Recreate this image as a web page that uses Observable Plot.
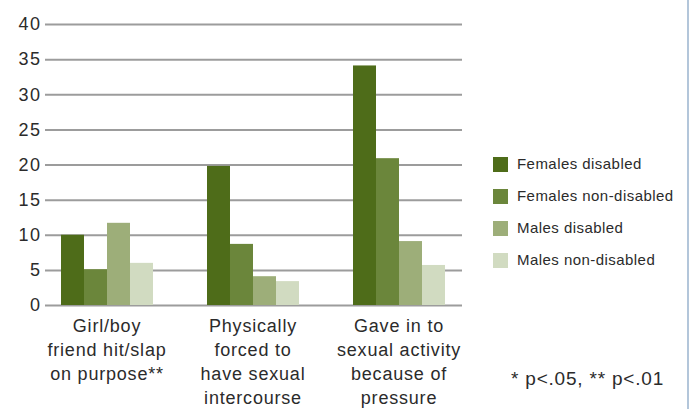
<!DOCTYPE html>
<html>
<head>
<meta charset="utf-8">
<script src="https://cdn.jsdelivr.net/npm/d3@7"></script>
<script src="https://cdn.jsdelivr.net/npm/@observablehq/plot@0.6"></script>
<style>
  html, body { margin: 0; padding: 0; background: #fff; }
  #wrap { position: relative; width: 691px; height: 409px; overflow: hidden; font-family: "Liberation Sans", Arial, sans-serif; color: #2b2b2b; }
  #wrap svg { position: absolute; left: 0; top: 0; }
  .legend { position: absolute; left: 493px; top: 157px; }
  .legend .row { position: relative; height: 32px; font-size: 15px; line-height: 16px; white-space: nowrap; letter-spacing: 0.45px; }
  .legend .sw { position: absolute; left: 0; top: 0; width: 15px; height: 15px; }
  .legend .lab { position: absolute; left: 24px; top: -1px; }
  .note { position: absolute; left: 511px; top: 368px; font-size: 19px; line-height: 22px; letter-spacing: 0.8px; white-space: nowrap; }
  .edge { position: absolute; left: 687px; top: 0; width: 2px; height: 409px; background: #b3c6da; }
  .xlab text { letter-spacing: 0.8px; }
  .ylab text { letter-spacing: 1.5px; }
</style>
</head>
<body>
<div id="wrap"></div>
<script>
const categories = [
  "Girl/boy\nfriend hit/slap\non purpose**",
  "Physically\nforced to\nhave sexual\nintercourse",
  "Gave in to\nsexual activity\nbecause of\npressure"
];
const series = ["Females disabled", "Females non-disabled", "Males disabled", "Males non-disabled"];
const femalesDisabled = [10.0, 19.8, 34.1];
const femalesNonDisabled = [5.1, 8.7, 20.9];
const malesDisabled = [11.7, 4.1, 9.1];
const malesNonDisabled = [6.0, 3.4, 5.7];
const yTicks = [0, 5, 10, 15, 20, 25, 30, 35, 40];
const colors = ["#4e6c19", "#6b863b", "#9dae79", "#d1dbc1"];
const footnote = "* p<.05, ** p<.01";

const seriesValues = [femalesDisabled, femalesNonDisabled, malesDisabled, malesNonDisabled];
const data = [];
categories.forEach((c, i) => series.forEach((s, j) => data.push({category: c, series: s, value: seriesValues[j][i]})));

const W = 691, H = 409;
const margins = {marginLeft: 45, marginRight: 229, marginTop: 24, marginBottom: 104};
const font = "'Liberation Sans', Arial, sans-serif";

const grid = Plot.plot({
  width: W, height: H, ...margins,
  style: {fontFamily: font, background: "transparent", color: "#2b2b2b"},
  y: {domain: [0, 40], axis: null},
  marks: [
    Plot.ruleY(yTicks, {stroke: "#9c9c9c", strokeWidth: 2}),
    Plot.axisY(yTicks, {tickSize: 0, tickPadding: 4, fontSize: 18, fill: "#2b2b2b", label: null, className: "ylab"})
  ]
});

const bars = Plot.plot({
  width: W, height: H, ...margins,
  style: {fontFamily: font, background: "transparent", color: "#2b2b2b"},
  y: {domain: [0, 40], axis: null},
  x: {domain: series, padding: 0, axis: null},
  fx: {domain: categories, paddingInner: 0.365, paddingOuter: 0.106, align: 0.45, label: null, axis: null},
  color: {domain: series, range: colors},
  marks: [
    Plot.barY(data, {fx: "category", x: "series", y: "value", fill: "series"}),
    Plot.axisFx({anchor: "bottom", tickSize: 0, tickPadding: 9, fontSize: 18, lineHeight: 1.333, fill: "#2b2b2b", label: null, className: "xlab"})
  ]
});

const wrap = document.getElementById("wrap");
wrap.appendChild(grid);
wrap.appendChild(bars);

const legend = document.createElement("div");
legend.className = "legend";
series.forEach((s, i) => {
  const row = document.createElement("div");
  row.className = "row";
  row.innerHTML = `<span class="sw" style="background:${colors[i]}"></span><span class="lab">${s}</span>`;
  legend.appendChild(row);
});
wrap.appendChild(legend);

const note = document.createElement("div");
note.className = "note";
note.textContent = footnote;
wrap.appendChild(note);

const edge = document.createElement("div");
edge.className = "edge";
wrap.appendChild(edge);
</script>
</body>
</html>
